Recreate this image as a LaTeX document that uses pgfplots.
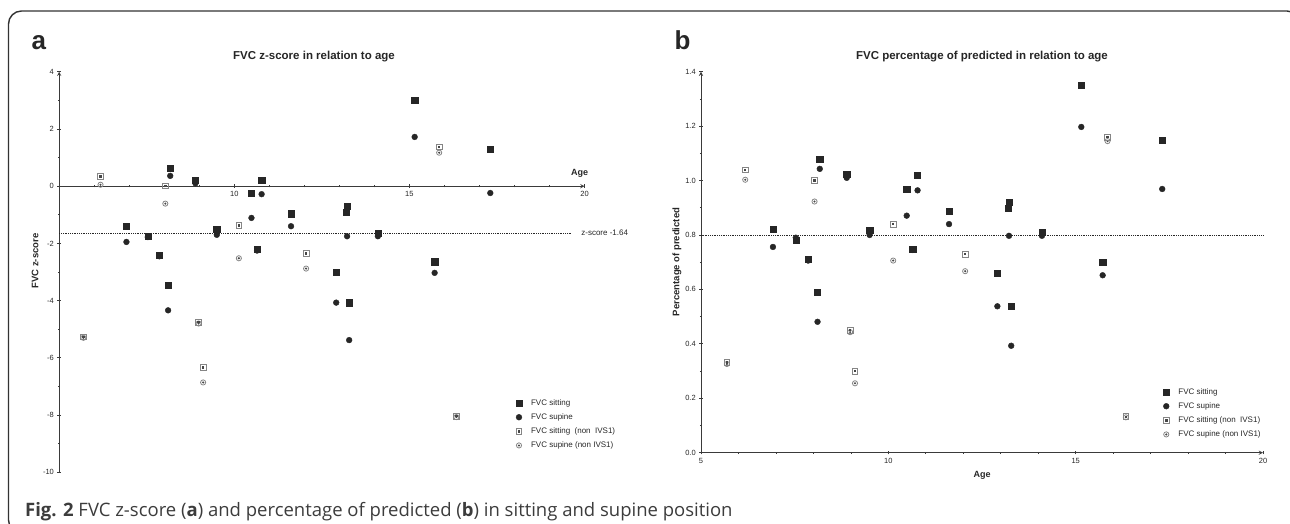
\documentclass[border=0pt]{standalone}
\usepackage{fontspec}
\setmainfont{Liberation Sans}
\newfontfamily\capfont{Open Sans}
\usepackage{pgfplots}
\usepackage{pgfplotstable}
\pgfplotsset{compat=1.18}

\definecolor{ink}{HTML}{262626}
\definecolor{axisgray}{HTML}{3A3A3A}
\definecolor{ringgray}{HTML}{858585}
\definecolor{framegray}{HTML}{333333}
\definecolor{captext}{HTML}{3C3C3C}

% open markers: square with a centre dot, ring with a centre dot
\pgfdeclareplotmark{sqdot}{%
  \pgfpathrectangle{\pgfpoint{-\pgfplotmarksize}{-\pgfplotmarksize}}%
    {\pgfpoint{2\pgfplotmarksize}{2\pgfplotmarksize}}%
  \pgfusepathqstroke
  \pgfpathrectangle{\pgfpoint{-0.42\pgfplotmarksize}{-0.42\pgfplotmarksize}}%
    {\pgfpoint{0.84\pgfplotmarksize}{0.84\pgfplotmarksize}}%
  \pgfusepathqfill}
\pgfdeclareplotmark{ringdot}{%
  \pgfpathcircle{\pgfpointorigin}{\pgfplotmarksize}%
  \pgfusepathqstroke
  \pgfpathcircle{\pgfpointorigin}{0.45\pgfplotmarksize}%
  \pgfusepathqfill}

% age, z-score sitting/supine, fraction of predicted sitting/supine
\pgfplotstableread{
age   zsit   zsup   psit   psup
6.92  -1.41  -1.95  0.820  0.756
7.53  -1.74  -1.78  0.780  0.790
7.86  -2.42  -2.45  0.711  0.706
8.11  -3.45  -4.34  0.589  0.481
8.17   0.62   0.36  1.078  1.043
8.89   0.22   0.10  1.022  1.010
9.50  -1.51  -1.70  0.819  0.800
10.49 -0.24  -1.11  0.969  0.871
10.65 -2.21  -2.25  0.749  0.745
10.78  0.20  -0.28  1.019  0.964
11.62 -0.96  -1.40  0.888  0.840
12.91 -3.01  -4.07  0.659  0.538
13.19 -0.91   nan   0.899  nan
13.22 -0.69  -1.75  0.920  0.797
13.28 -4.07  -5.38  0.539  0.393
14.10 -1.65  -1.75  0.810  0.797
15.15  3.00   1.72  1.349  1.197
15.72 -2.64  -3.03  0.700  0.652
17.31  1.29  -0.24  1.149  0.969
}\ivs
\pgfplotstableread{
age   zsit   zsup   psit   psup
5.69  -5.27  -5.30  0.332  0.326
6.18   0.34   0.05  1.039  1.003
8.03   0.01  -0.61  1.000  0.923
8.98  -4.75  -4.80  0.450  0.443
9.11  -6.34  -6.86  0.300  0.255
10.13 -1.38  -2.52  0.840  0.706
12.05 -2.36  -2.88  0.730  0.667
15.85  1.37   1.17  1.160  1.145
16.34 -8.04  -8.07  0.132  0.130
}\nonivs

\begin{document}
\begin{tikzpicture}
\useasboundingbox (0pt,0pt) rectangle (1290pt,523pt);
\pgfplotsset{
  panel/.style={
    scale only axis, clip=false, anchor=south west,
    xmin=5, xmax=20,
    axis line style={axisgray, line width=0.9pt, -},
    every tick/.style={axisgray, line width=0.7pt},
    major tick length=3.5pt, minor tick length=2.2pt,
    tick align=outside,
    tick label style={font=\fontsize{7.5}{8}\selectfont, text=ink},
    /pgf/number format/assume math mode=true,
    legend cell align=left,
    legend image code/.code={\draw[mark repeat=2,mark phase=2,##1]
      plot coordinates {(0pt,0pt) (5pt,0pt) (10pt,0pt)};},
    legend style={draw=none, fill=none, font=\fontsize{8}{9}\selectfont,
      text=ink, row sep=3.8pt, inner sep=0pt, nodes={inner sep=1.5pt},
      /tikz/every odd column/.append style={column sep=7.5pt}},
  },
  sit/.style={only marks, mark=square*, mark size=3.1pt, draw=ink, fill=ink},
  sup/.style={only marks, mark=*, mark size=2.9pt, draw=ink, fill=ink},
  sitn/.style={only marks, mark=sqdot, mark size=2.9pt, draw=ringgray,
    fill=ink!85, line width=0.8pt},
  supn/.style={only marks, mark=ringdot, mark size=2.6pt, draw=ringgray,
    fill=ink!85, line width=0.8pt},
  refline/.style={densely dotted, ink, line width=0.8pt, forget plot},
}

% ---------------- (a) z-score ----------------
\begin{axis}[panel, at={(59.2pt,50.7pt)}, width=525.3pt, height=400.6pt,
  ymin=-10, ymax=4,
  axis x line=middle, axis y line=left,
  xtick={10,15,20}, minor xtick={6,7,8,9,11,12,13,14,16,17,18,19},
  ytick={-10,-8,-6,-4,-2,0,2,4}, minor ytick={-9,-7,-5,-3,-1,1,3},
  legend style={at={(0.869,0.186)}, anchor=north west},
]
\addlegendimage{sit}\addlegendentry{FVC sitting}
\addlegendimage{sup}\addlegendentry{FVC supine}
\addlegendimage{sitn}\addlegendentry{FVC sitting\ \ (non\ \ IVS1)}
\addlegendimage{supn}\addlegendentry{FVC supine (non IVS1)}
\addplot[refline] coordinates {(5,-1.64) (19.6,-1.64)};
\addplot[sup, forget plot] table[x=age, y=zsup] {\ivs};
\addplot[supn, forget plot] table[x=age, y=zsup] {\nonivs};
\addplot[sit, forget plot] table[x=age, y=zsit] {\ivs};
\addplot[sitn, forget plot] table[x=age, y=zsit] {\nonivs};
\node[font=\fontsize{8}{9}\selectfont, text=ink, anchor=west]
  at (axis cs:19.81,-1.64) {z-score -1.64};
\node[font=\bfseries\fontsize{9}{10}\selectfont, text=ink]
  at (axis cs:19.86,0.46) {Age};
\end{axis}

% ---------------- (b) percentage of predicted ----------------
\begin{axis}[panel, at={(701pt,70.3pt)}, width=562pt, height=381pt,
  ymin=0, ymax=1.4,
  axis x line=bottom, axis y line=left,
  xtick={5,10,15,20}, minor x tick num=4,
  ytick={0,0.2,0.4,0.6,0.8,1.0,1.2,1.4}, minor y tick num=1,
  yticklabel style={/pgf/number format/.cd, fixed, fixed zerofill, precision=1},
  legend style={at={(0.822,0.173)}, anchor=north west},
]
\addlegendimage{sit}\addlegendentry{FVC sitting}
\addlegendimage{sup}\addlegendentry{FVC supine}
\addlegendimage{sitn}\addlegendentry{FVC sitting (non\ \ IVS1)}
\addlegendimage{supn}\addlegendentry{FVC supine (non IVS1)}
\addplot[refline] coordinates {(5,0.8) (20,0.8)};
\addplot[sup, forget plot] table[x=age, y=psup] {\ivs};
\addplot[supn, forget plot] table[x=age, y=psup] {\nonivs};
\addplot[sit, forget plot] table[x=age, y=psit] {\ivs};
\addplot[sitn, forget plot] table[x=age, y=psit] {\nonivs};
\end{axis}

% titles, panel letters, axis titles
\node[font=\bfseries\fontsize{11.5}{12}\selectfont, text=ink] at (314pt,466pt)
  {FVC z-score in relation to age};
\node[font=\bfseries\fontsize{11.5}{12}\selectfont, text=ink] at (982pt,466pt)
  {FVC percentage of predicted in relation to age};
\node[font=\bfseries\fontsize{26}{27}\selectfont, text=ink, anchor=base west]
  at (28pt,473pt) {a};
\node[font=\bfseries\fontsize{26}{27}\selectfont, text=ink, anchor=base west]
  at (671pt,473pt) {b};
\node[font=\bfseries\fontsize{9.5}{10}\selectfont, text=ink, rotate=90]
  at (35pt,262pt) {FVC z-score};
\node[font=\bfseries\fontsize{9.5}{10}\selectfont, text=ink, rotate=90]
  at (677pt,261pt) {Percentage of predicted};
\node[font=\bfseries\fontsize{9}{10}\selectfont, text=ink] at (982pt,48pt) {Age};

% frame and caption
\draw[framegray, line width=1.4pt, rounded corners=13pt]
  (8.5pt,-10pt) rectangle (1300pt,512pt);
\node[anchor=base west, inner sep=0pt, text=captext,
  font=\capfont\fontsize{18.5}{21}\selectfont] at (25pt,6.5pt)
  {\textbf{Fig. 2} FVC z-score (\textbf{a}) and percentage of predicted (\textbf{b}) in sitting and supine position};
\end{tikzpicture}
\end{document}
